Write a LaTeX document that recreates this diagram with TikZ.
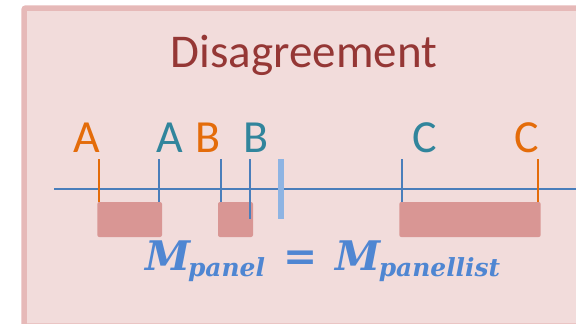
\documentclass[tikz,border=0pt]{standalone}
\usepackage{fontspec}
\setmainfont{Carlito}
\newfontfamily\formulafont{DejaVu Serif}
\definecolor{panelfill}{HTML}{F2DCDB}
\definecolor{panelborder}{HTML}{E6B9B8}
\definecolor{titlered}{HTML}{953735}
\definecolor{axisblue}{HTML}{4A7EBB}
\definecolor{lightbar}{HTML}{8EB4E3}
\definecolor{orangec}{HTML}{E46C0A}
\definecolor{tealc}{HTML}{31859C}
\definecolor{boxfill}{HTML}{D99694}
\definecolor{formulablue}{HTML}{4F86D2}
\newcommand\subtxt[1]{\raisebox{-5pt}{\fontsize{22}{24}\selectfont #1}}
\tikzset{
  lbl/.style={anchor=base, inner sep=0pt, font=\fontsize{46}{50}\selectfont},
  orangelbl/.style={lbl, text=orangec},
  teallbl/.style={lbl, text=tealc},
  otick/.style={draw=orangec, line width=2.2pt},
  btick/.style={draw=axisblue, line width=2.2pt},
  thintick/.style={draw=axisblue, line width=1.6pt},
  gapbox/.style={fill=boxfill, rounded corners=2pt},
  fbody/.style={anchor=base west, inner sep=0pt, text=formulablue},
}
\begin{document}
\begin{tikzpicture}[x=1pt,y=-1pt]
\useasboundingbox (0,0) rectangle (576,324);
% panel
\draw[panelborder, fill=panelfill, line width=5.5pt, rounded corners=2pt] (24,8) rectangle (600,326);
% title
\node[anchor=base, inner sep=0pt, text=titlered, font=\fontsize{47}{52}\selectfont] (title) at (304,67.7) {Disagreement};
% gap boxes
\fill[gapbox] (97.3,202) rectangle (162,237);
\fill[gapbox] (218,202) rectangle (253,237);
\fill[gapbox] (399.3,202) rectangle (540.7,237);
% axis
\coordinate (axL) at (54,189);
\coordinate (axR) at (576,189);
\draw[axisblue, line width=2.6pt] (axL) -- (axR);
% ticks
\draw[otick] (99.3,159) -- (99.3,202);
\draw[btick] (159.3,159) -- (159.3,202);
\draw[thintick] (221,159) -- (221,202);
\draw[btick] (250.3,159) -- (250.3,219.3);
\draw[lightbar, line width=5.7pt] (281,159) -- (281,219.3);
\draw[btick] (402,159) -- (402,202);
\draw[otick] (537.7,159) -- (537.7,202);
% labels
\node[orangelbl] (a1) at (87.3,152.7) {A};
\node[teallbl] (a2) at (169.7,152.7) {A};
\node[orangelbl] (b1) at (207.8,152.7) {B};
\node[teallbl] (b2) at (256,152.7) {B};
\node[teallbl] (c1) at (424.7,152.7) {C};
\node[orangelbl] (c2) at (527,152.7) {C};
% formula
\node[fbody] (formula) at (145,270.7)
  {\resizebox{355pt}{!}{\formulafont\bfseries\itshape\fontsize{36}{40}\selectfont M\kern-2pt\subtxt{panel}\hspace{0.45em}=\hspace{0.45em}M\kern-2pt\subtxt{panellist}}};
\end{tikzpicture}
\end{document}
